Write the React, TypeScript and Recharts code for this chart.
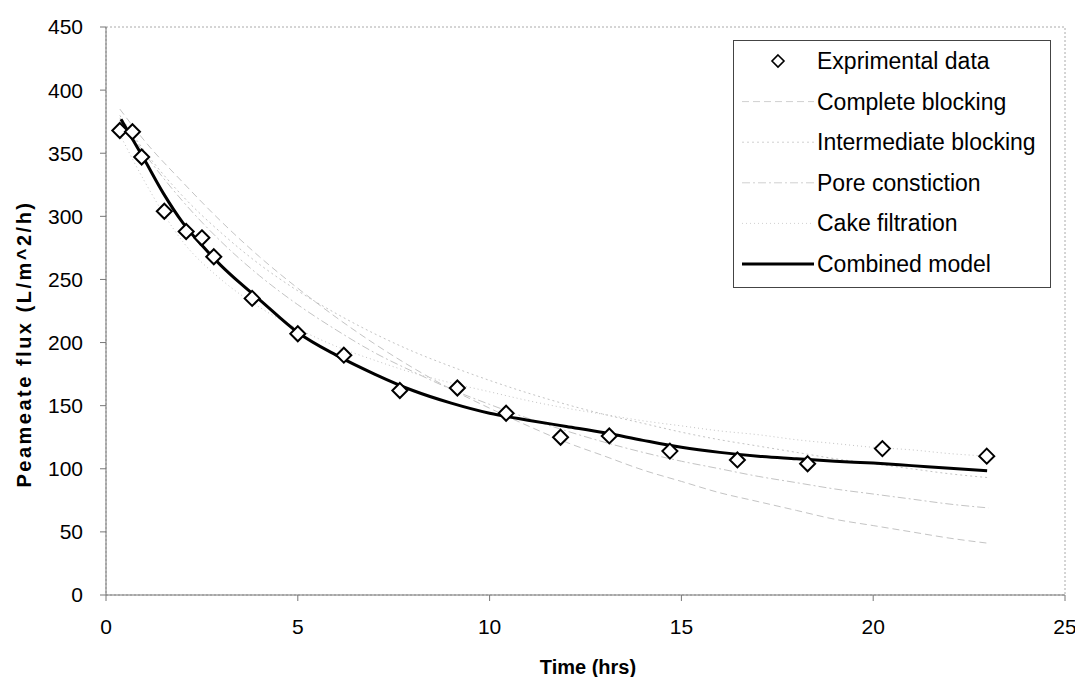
import { ComposedChart, Line, Scatter, XAxis, YAxis, Legend, ReferenceArea } from 'recharts'

const FONT = 'Arial, "Liberation Sans", sans-serif'

// experimental points
const expTime = [0.36, 0.69, 0.93, 1.52, 2.09, 2.5, 2.81, 3.81, 5.0, 6.2, 7.66, 9.16, 10.43, 11.85, 13.12, 14.7, 16.46, 18.29, 20.24, 22.96]
const expFlux = [368, 367, 347, 304, 288, 283, 268, 235, 207, 190, 162, 164, 144, 125, 126, 114, 107, 104, 116, 110]

// model curves
const modelTime = [0.36, 1, 2, 3, 4, 5, 6, 7, 8, 9, 10, 11, 12, 13, 14, 15, 16, 17, 18, 19, 20, 21, 22, 23]
const completeBlocking = [385, 360, 327, 296, 268, 243, 220, 199, 180, 163, 148, 134, 121, 110, 99, 90, 81, 74, 67, 60, 55, 50, 45, 41]
const intermediateBlocking = [380, 352, 316, 287, 262, 241, 223, 207, 193, 181, 170, 160, 151, 143, 136, 129, 123, 118, 113, 108, 104, 100, 96, 93]
const poreConstriction = [378, 350, 312, 280, 253, 230, 210, 192, 177, 163, 151, 140, 130, 121, 113, 106, 100, 94, 89, 84, 80, 76, 72, 69]
const cakeFiltration = [365, 328, 280, 250, 228, 211, 197, 186, 176, 168, 161, 154, 148, 143, 138, 134, 130, 127, 123, 120, 117, 115, 112, 110]

const combinedTime = [0.39, 1, 1.5, 2, 2.5, 3, 3.5, 4, 5, 6, 7, 8, 9, 10, 11, 12, 13, 14, 15, 16, 17, 18, 19, 20, 21, 22, 22.97]
const combinedFlux = [377, 345, 318, 295, 277, 261, 247, 234, 208, 190, 175, 162, 152, 144, 138.5, 133.5, 128.5, 122.5, 117, 113, 110, 108, 106, 104.5, 102.5, 100.5, 98.5]

const xTicks = [0, 5, 10, 15, 20, 25]
const yTicks = [0, 50, 100, 150, 200, 250, 300, 350, 400, 450]

const toPoints = (xs: number[], ys: number[]) => xs.map((t, i) => ({ t, v: ys[i] }))

const models = [
  { name: 'Complete blocking', values: completeBlocking, dash: '7 4' },
  { name: 'Intermediate blocking', values: intermediateBlocking, dash: '2 3' },
  { name: 'Pore constiction', values: poreConstriction, dash: '8 3 2 3' },
  { name: 'Cake filtration', values: cakeFiltration, dash: '1 3' },
]

const Diamond = (props: any) => {
  const { cx, cy } = props
  const r = 7.5
  return (
    <polygon
      points={`${cx},${cy - r} ${cx + r},${cy} ${cx},${cy + r} ${cx - r},${cy}`}
      fill="#fff"
      stroke="#000"
      strokeWidth={2}
    />
  )
}

function ChartLegend() {
  const rows = ['Exprimental data', ...models.map(m => m.name), 'Combined model']
  return (
    <div style={{ border: '1px solid #444', width: 318, height: 248, background: '#fff', fontFamily: FONT, boxSizing: 'border-box' }}>
      <svg width={316} height={246} style={{ display: 'block' }}>
        {rows.map((name, i) => {
          const y = 20 + i * 40.6
          let icon = null
          if (i === 0) icon = <polygon points={`44,${y - 6} 50,${y} 44,${y + 6} 38,${y}`} fill="#fff" stroke="#000" strokeWidth={1.6} />
          else if (i === rows.length - 1) icon = <line x1={8} x2={80} y1={y} y2={y} stroke="#000" strokeWidth={3} />
          else icon = <line x1={8} x2={80} y1={y} y2={y} stroke="#d0d0d0" strokeWidth={1} strokeDasharray={models[i - 1].dash} />
          return (
            <g key={name}>
              {icon}
              <text x={83} y={y} dy="0.35em" fontSize={23} fill="#000">{name}</text>
            </g>
          )
        })}
      </svg>
    </div>
  )
}

export default function App() {
  return (
    <ComposedChart width={1070} height={669} margin={{ top: 19, right: 13, bottom: 22, left: 38 }}>
      <ReferenceArea x1={0} x2={25} y1={0} y2={450} fill="none" stroke="#aaa" strokeDasharray="2 2" />
      <XAxis
        type="number"
        dataKey="t"
        domain={[0, 25]}
        ticks={xTicks}
        allowDataOverflow
        height={60}
        tickSize={6}
        tickMargin={18}
        tick={{ fill: '#000', fontSize: 21, fontFamily: FONT }}
        axisLine={{ stroke: '#777' }}
        tickLine={{ stroke: '#777' }}
        label={{
          content: () => (
            <text x={580} y={666} textAnchor="middle" fontSize={20} fontWeight="bold" fontFamily={FONT} fill="#000">Time (hrs)</text>
          ),
        }}
      />
      <YAxis
        type="number"
        dataKey="v"
        domain={[0, 450]}
        ticks={yTicks}
        width={60}
        tickSize={6}
        tickMargin={17}
        tick={{ fill: '#000', fontSize: 21, fontFamily: FONT }}
        axisLine={{ stroke: '#777' }}
        tickLine={{ stroke: '#777' }}
        label={{
          content: () => (
            <text x={18} y={336} transform="rotate(-90 18 336)" textAnchor="middle" dominantBaseline="middle" fontSize={20} letterSpacing={2.5} fontWeight="bold" fontFamily={FONT} fill="#000">
              Peameate flux (L/m^2/h)
            </text>
          ),
        }}
      />
      {models.map(m => (
        <Line
          key={m.name}
          name={m.name}
          data={toPoints(modelTime, m.values)}
          dataKey="v"
          type="monotone"
          stroke="#c4c4c4"
          strokeWidth={1}
          strokeDasharray={m.dash}
          dot={false}
          isAnimationActive={false}
        />
      ))}
      <Line
        name="Combined model"
        data={toPoints(combinedTime, combinedFlux)}
        dataKey="v"
        type="monotone"
        stroke="#000"
        strokeWidth={3}
        dot={false}
        isAnimationActive={false}
      />
      <Scatter
        name="Exprimental data"
        data={toPoints(expTime, expFlux)}
        dataKey="v"
        shape={Diamond}
        isAnimationActive={false}
      />
      <Legend
        layout="vertical"
        align="center"
        verticalAlign="middle"
        content={() => <ChartLegend />}
        wrapperStyle={{ position: 'absolute', left: 725, top: 32, width: 318, height: 248 }}
      />
    </ComposedChart>
  )
}
